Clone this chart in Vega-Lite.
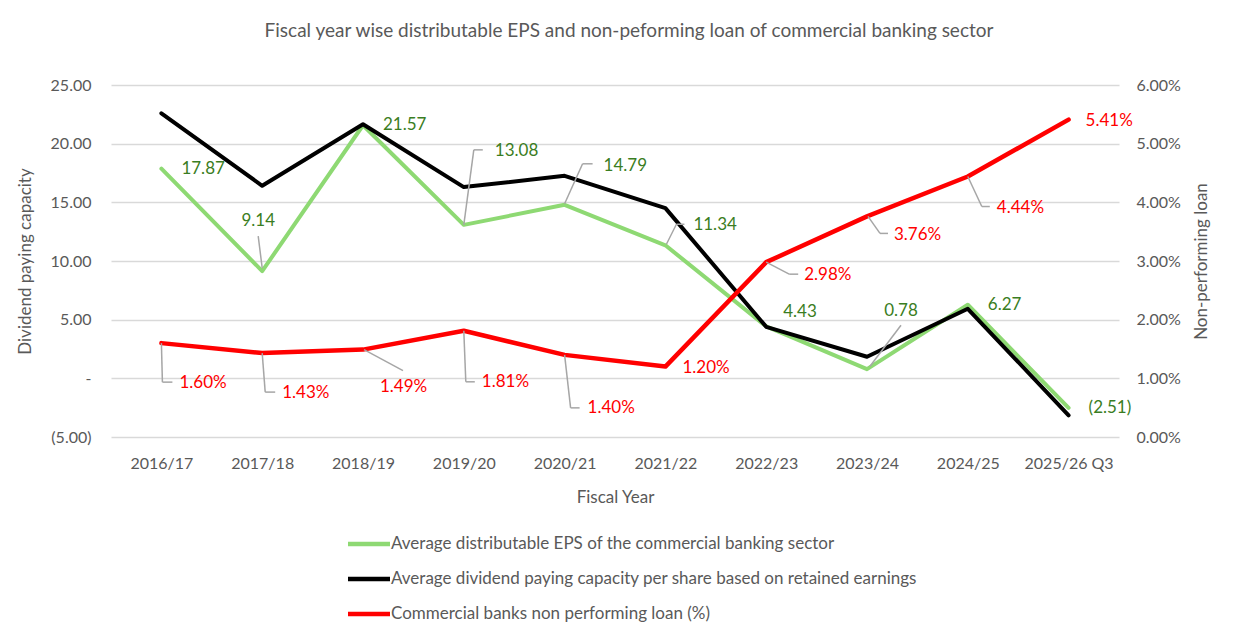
{
  "$schema": "https://vega.github.io/schema/vega-lite/v6.json",
  "width": 1008,
  "height": 352,
  "autosize": "none",
  "padding": {"left": 111, "top": 85, "right": 138, "bottom": 205},
  "background": "white",
  "title": {
    "text": "Fiscal year wise distributable EPS and non-peforming loan of commercial banking sector",
    "anchor": "middle",
    "dx": 14,
    "offset": 36,
    "fontSize": 19,
    "fontWeight": "normal",
    "color": "#595959"
  },
  "data": {
    "values": [
      {"year": "2016/17", "eps": 17.87, "cap": 22.59, "npl": 0.0160},
      {"year": "2017/18", "eps": 9.14, "cap": 16.41, "npl": 0.0143},
      {"year": "2018/19", "eps": 21.57, "cap": 21.66, "npl": 0.0149},
      {"year": "2019/20", "eps": 13.08, "cap": 16.30, "npl": 0.0181},
      {"year": "2020/21", "eps": 14.79, "cap": 17.26, "npl": 0.0140},
      {"year": "2021/22", "eps": 11.34, "cap": 14.51, "npl": 0.0120},
      {"year": "2022/23", "eps": 4.43, "cap": 4.39, "npl": 0.0298},
      {"year": "2023/24", "eps": 0.78, "cap": 1.84, "npl": 0.0376},
      {"year": "2024/25", "eps": 6.27, "cap": 5.93, "npl": 0.0444},
      {"year": "2025/26 Q3", "eps": -2.51, "cap": -3.15, "npl": 0.0541}
    ]
  },
  "transform": [
    {"calculate": "datum.eps < 0 ? '(' + format(-datum.eps, '.2f') + ')' : format(datum.eps, '.2f')", "as": "eps_label"},
    {"calculate": "format(datum.npl, '.2%')", "as": "npl_label"}
  ],
  "encoding": {
    "x": {
      "field": "year",
      "type": "ordinal",
      "sort": null,
      "scale": {"type": "point", "padding": 0.5},
      "title": "Fiscal Year",
      "axis": {"labelAngle": 0}
    }
  },
  "layer": [
    {
      "layer": [
        {
          "mark": {"type": "line", "strokeWidth": 4, "strokeCap": "round", "strokeJoin": "round"},
          "encoding": {
            "y": {
              "field": "eps", "type": "quantitative",
              "scale": {"domain": [-5, 25], "nice": false},
              "title": "Dividend paying capacity",
              "axis": {
                "orient": "left",
                "values": [-5, 0, 5, 10, 15, 20, 25],
                "labelExpr": "datum.value == 0 ? '-\u00a0\u00a0\u00a0' : datum.value < 0 ? '(' + format(-datum.value, '.2f') + ')' : format(datum.value, '.2f') + '\u00a0'"
              }
            },
            "color": {
              "datum": "Average distributable EPS of the commercial banking sector",
              "type": "nominal",
              "scale": {
                "domain": [
                  "Average distributable EPS of the commercial banking sector",
                  "Average dividend paying capacity per share based on retained earnings",
                  "Commercial banks non performing loan (%)"
                ],
                "range": ["#8ED973", "#000000", "#FF0000"]
              },
              "legend": {
                "orient": "none",
                "legendX": 245,
                "legendY": 446,
                "direction": "vertical",
                "title": null,
                "symbolType": "M-2,0L2,0",
                "symbolSize": 441,
                "symbolStrokeWidth": 4.5,
                "labelFontSize": 17,
                "labelColor": "#595959",
                "labelOffset": 9,
                "rowPadding": 13,
                "labelLimit": 700
              }
            }
          }
        },
        {
          "mark": {"type": "line", "strokeWidth": 4, "strokeCap": "round", "strokeJoin": "round"},
          "encoding": {
            "y": {"field": "cap", "type": "quantitative", "title": "Dividend paying capacity"},
            "color": {"datum": "Average dividend paying capacity per share based on retained earnings", "type": "nominal"}
          }
        },
        {
          "transform": [{"filter": "indexof(['2016/17','2018/19','2024/25','2025/26 Q3'], datum.year) >= 0"}],
          "mark": {"type": "text", "align": "left", "baseline": "middle", "dx": 20, "dy": 0, "fontSize": 17, "color": "#3A7D22"},
          "encoding": {
            "y": {"field": "eps", "type": "quantitative", "title": "Dividend paying capacity"},
            "text": {"field": "eps_label"}
          }
        },
        {
          "transform": [{"filter": "datum.year == '2017/18'"}],
          "encoding": {"y": {"field": "eps", "type": "quantitative", "title": "Dividend paying capacity"}},
          "layer": [
            {"mark": {"type": "rule", "color": "#A6A6A6", "strokeWidth": 1.5, "yOffset": -3, "x2Offset": -4, "y2Offset": -35}, "encoding": {"x2": {"field": "year"}, "y2": {"field": "eps"}}},
            {"mark": {"type": "text", "align": "center", "baseline": "middle", "dx": -4, "dy": -50, "fontSize": 17, "color": "#3A7D22"}, "encoding": {"text": {"field": "eps_label"}}}
          ]
        },
        {
          "transform": [{"filter": "datum.year == '2019/20'"}],
          "encoding": {"y": {"field": "eps", "type": "quantitative", "title": "Dividend paying capacity"}},
          "layer": [
            {"mark": {"type": "rule", "color": "#A6A6A6", "strokeWidth": 1.5, "x2Offset": 10, "y2Offset": -75}, "encoding": {"x2": {"field": "year"}, "y2": {"field": "eps"}}},
            {"mark": {"type": "rule", "color": "#A6A6A6", "strokeWidth": 1.5, "xOffset": 10, "yOffset": -75, "x2Offset": 19, "y2Offset": -75}, "encoding": {"x2": {"field": "year"}, "y2": {"field": "eps"}}},
            {"mark": {"type": "text", "align": "left", "baseline": "middle", "dx": 31, "dy": -74, "fontSize": 17, "color": "#3A7D22"}, "encoding": {"text": {"field": "eps_label"}}}
          ]
        },
        {
          "transform": [{"filter": "datum.year == '2020/21'"}],
          "encoding": {"y": {"field": "eps", "type": "quantitative", "title": "Dividend paying capacity"}},
          "layer": [
            {"mark": {"type": "rule", "color": "#A6A6A6", "strokeWidth": 1.5, "yOffset": -1, "x2Offset": 18, "y2Offset": -41}, "encoding": {"x2": {"field": "year"}, "y2": {"field": "eps"}}},
            {"mark": {"type": "rule", "color": "#A6A6A6", "strokeWidth": 1.5, "xOffset": 18, "yOffset": -41, "x2Offset": 28, "y2Offset": -41}, "encoding": {"x2": {"field": "year"}, "y2": {"field": "eps"}}},
            {"mark": {"type": "text", "align": "left", "baseline": "middle", "dx": 39, "dy": -39, "fontSize": 17, "color": "#3A7D22"}, "encoding": {"text": {"field": "eps_label"}}}
          ]
        },
        {
          "transform": [{"filter": "datum.year == '2021/22'"}],
          "encoding": {"y": {"field": "eps", "type": "quantitative", "title": "Dividend paying capacity"}},
          "layer": [
            {"mark": {"type": "rule", "color": "#A6A6A6", "strokeWidth": 1.5, "xOffset": 1, "yOffset": -1, "x2Offset": 11, "y2Offset": -21}, "encoding": {"x2": {"field": "year"}, "y2": {"field": "eps"}}},
            {"mark": {"type": "rule", "color": "#A6A6A6", "strokeWidth": 1.5, "xOffset": 11, "yOffset": -21, "x2Offset": 19, "y2Offset": -21}, "encoding": {"x2": {"field": "year"}, "y2": {"field": "eps"}}},
            {"mark": {"type": "text", "align": "left", "baseline": "middle", "dx": 28, "dy": -20, "fontSize": 17, "color": "#3A7D22"}, "encoding": {"text": {"field": "eps_label"}}}
          ]
        },
        {
          "transform": [{"filter": "datum.year == '2022/23'"}],
          "mark": {"type": "text", "align": "left", "baseline": "middle", "dx": 17, "dy": -14, "fontSize": 17, "color": "#3A7D22"},
          "encoding": {
            "y": {"field": "eps", "type": "quantitative", "title": "Dividend paying capacity"},
            "text": {"field": "eps_label"}
          }
        },
        {
          "transform": [{"filter": "datum.year == '2023/24'"}],
          "encoding": {"y": {"field": "eps", "type": "quantitative", "title": "Dividend paying capacity"}},
          "layer": [
            {"mark": {"type": "rule", "color": "#A6A6A6", "strokeWidth": 1.5, "xOffset": 3, "yOffset": -3, "x2Offset": 34, "y2Offset": -44}, "encoding": {"x2": {"field": "year"}, "y2": {"field": "eps"}}},
            {"mark": {"type": "text", "align": "center", "baseline": "middle", "dx": 34, "dy": -58, "fontSize": 17, "color": "#3A7D22"}, "encoding": {"text": {"field": "eps_label"}}}
          ]
        }
      ]
    },
    {
      "layer": [
        {
          "mark": {"type": "line", "strokeWidth": 4.5, "strokeCap": "round", "strokeJoin": "round"},
          "encoding": {
            "y": {
              "field": "npl", "type": "quantitative",
              "scale": {"domain": [0, 0.06], "nice": false},
              "title": "Non-performing loan",
              "axis": {
                "orient": "right",
                "format": ".2%",
                "values": [0, 0.01, 0.02, 0.03, 0.04, 0.05, 0.06],
                "grid": false,
                "titleAngle": 270,
                "labelPadding": 17,
                "titlePadding": 30
              }
            },
            "color": {"datum": "Commercial banks non performing loan (%)", "type": "nominal"}
          }
        },
        {
          "transform": [{"filter": "datum.year == '2021/22' || datum.year == '2025/26 Q3'"}],
          "mark": {"type": "text", "align": "left", "baseline": "middle", "dx": 17, "dy": 1, "fontSize": 17, "color": "#FF0000"},
          "encoding": {
            "y": {"field": "npl", "type": "quantitative", "title": "Non-performing loan"},
            "text": {"field": "npl_label"}
          }
        },
        {
          "transform": [{"filter": "datum.year == '2016/17'"}],
          "encoding": {"y": {"field": "npl", "type": "quantitative", "title": "Non-performing loan"}},
          "layer": [
            {"mark": {"type": "rule", "color": "#A6A6A6", "strokeWidth": 1.5, "x2Offset": 1, "y2Offset": 39}, "encoding": {"x2": {"field": "year"}, "y2": {"field": "npl"}}},
            {"mark": {"type": "rule", "color": "#A6A6A6", "strokeWidth": 1.5, "xOffset": 1, "yOffset": 39, "x2Offset": 11, "y2Offset": 39}, "encoding": {"x2": {"field": "year"}, "y2": {"field": "npl"}}},
            {"mark": {"type": "text", "align": "left", "baseline": "middle", "dx": 18, "dy": 40, "fontSize": 17, "color": "#FF0000"}, "encoding": {"text": {"field": "npl_label"}}}
          ]
        },
        {
          "transform": [{"filter": "datum.year == '2017/18'"}],
          "encoding": {"y": {"field": "npl", "type": "quantitative", "title": "Non-performing loan"}},
          "layer": [
            {"mark": {"type": "rule", "color": "#A6A6A6", "strokeWidth": 1.5, "x2Offset": 3, "y2Offset": 39}, "encoding": {"x2": {"field": "year"}, "y2": {"field": "npl"}}},
            {"mark": {"type": "rule", "color": "#A6A6A6", "strokeWidth": 1.5, "xOffset": 3, "yOffset": 39, "x2Offset": 13, "y2Offset": 39}, "encoding": {"x2": {"field": "year"}, "y2": {"field": "npl"}}},
            {"mark": {"type": "text", "align": "left", "baseline": "middle", "dx": 20, "dy": 40, "fontSize": 17, "color": "#FF0000"}, "encoding": {"text": {"field": "npl_label"}}}
          ]
        },
        {
          "transform": [{"filter": "datum.year == '2018/19'"}],
          "encoding": {"y": {"field": "npl", "type": "quantitative", "title": "Non-performing loan"}},
          "layer": [
            {"mark": {"type": "rule", "color": "#A6A6A6", "strokeWidth": 1.5, "xOffset": 1, "x2Offset": 40, "y2Offset": 21}, "encoding": {"x2": {"field": "year"}, "y2": {"field": "npl"}}},
            {"mark": {"type": "text", "align": "left", "baseline": "middle", "dx": 17, "dy": 37, "fontSize": 17, "color": "#FF0000"}, "encoding": {"text": {"field": "npl_label"}}}
          ]
        },
        {
          "transform": [{"filter": "datum.year == '2019/20'"}],
          "encoding": {"y": {"field": "npl", "type": "quantitative", "title": "Non-performing loan"}},
          "layer": [
            {"mark": {"type": "rule", "color": "#A6A6A6", "strokeWidth": 1.5, "x2Offset": 2, "y2Offset": 51}, "encoding": {"x2": {"field": "year"}, "y2": {"field": "npl"}}},
            {"mark": {"type": "rule", "color": "#A6A6A6", "strokeWidth": 1.5, "xOffset": 2, "yOffset": 51, "x2Offset": 11, "y2Offset": 51}, "encoding": {"x2": {"field": "year"}, "y2": {"field": "npl"}}},
            {"mark": {"type": "text", "align": "left", "baseline": "middle", "dx": 18, "dy": 51, "fontSize": 17, "color": "#FF0000"}, "encoding": {"text": {"field": "npl_label"}}}
          ]
        },
        {
          "transform": [{"filter": "datum.year == '2020/21'"}],
          "encoding": {"y": {"field": "npl", "type": "quantitative", "title": "Non-performing loan"}},
          "layer": [
            {"mark": {"type": "rule", "color": "#A6A6A6", "strokeWidth": 1.5, "x2Offset": 6, "y2Offset": 53}, "encoding": {"x2": {"field": "year"}, "y2": {"field": "npl"}}},
            {"mark": {"type": "rule", "color": "#A6A6A6", "strokeWidth": 1.5, "xOffset": 6, "yOffset": 53, "x2Offset": 15, "y2Offset": 53}, "encoding": {"x2": {"field": "year"}, "y2": {"field": "npl"}}},
            {"mark": {"type": "text", "align": "left", "baseline": "middle", "dx": 23, "dy": 53, "fontSize": 17, "color": "#FF0000"}, "encoding": {"text": {"field": "npl_label"}}}
          ]
        },
        {
          "transform": [{"filter": "datum.year == '2022/23'"}],
          "encoding": {"y": {"field": "npl", "type": "quantitative", "title": "Non-performing loan"}},
          "layer": [
            {"mark": {"type": "rule", "color": "#A6A6A6", "strokeWidth": 1.5, "x2Offset": 23, "y2Offset": 12}, "encoding": {"x2": {"field": "year"}, "y2": {"field": "npl"}}},
            {"mark": {"type": "rule", "color": "#A6A6A6", "strokeWidth": 1.5, "xOffset": 23, "yOffset": 12, "x2Offset": 32, "y2Offset": 12}, "encoding": {"x2": {"field": "year"}, "y2": {"field": "npl"}}},
            {"mark": {"type": "text", "align": "left", "baseline": "middle", "dx": 38, "dy": 13, "fontSize": 17, "color": "#FF0000"}, "encoding": {"text": {"field": "npl_label"}}}
          ]
        },
        {
          "transform": [{"filter": "datum.year == '2023/24'"}],
          "encoding": {"y": {"field": "npl", "type": "quantitative", "title": "Non-performing loan"}},
          "layer": [
            {"mark": {"type": "rule", "color": "#A6A6A6", "strokeWidth": 1.5, "xOffset": 1, "x2Offset": 13, "y2Offset": 17}, "encoding": {"x2": {"field": "year"}, "y2": {"field": "npl"}}},
            {"mark": {"type": "rule", "color": "#A6A6A6", "strokeWidth": 1.5, "xOffset": 13, "yOffset": 17, "x2Offset": 21, "y2Offset": 17}, "encoding": {"x2": {"field": "year"}, "y2": {"field": "npl"}}},
            {"mark": {"type": "text", "align": "left", "baseline": "middle", "dx": 27, "dy": 19, "fontSize": 17, "color": "#FF0000"}, "encoding": {"text": {"field": "npl_label"}}}
          ]
        },
        {
          "transform": [{"filter": "datum.year == '2024/25'"}],
          "encoding": {"y": {"field": "npl", "type": "quantitative", "title": "Non-performing loan"}},
          "layer": [
            {"mark": {"type": "rule", "color": "#A6A6A6", "strokeWidth": 1.5, "x2Offset": 14, "y2Offset": 30}, "encoding": {"x2": {"field": "year"}, "y2": {"field": "npl"}}},
            {"mark": {"type": "rule", "color": "#A6A6A6", "strokeWidth": 1.5, "xOffset": 14, "yOffset": 30, "x2Offset": 22, "y2Offset": 30}, "encoding": {"x2": {"field": "year"}, "y2": {"field": "npl"}}},
            {"mark": {"type": "text", "align": "left", "baseline": "middle", "dx": 29, "dy": 31, "fontSize": 17, "color": "#FF0000"}, "encoding": {"text": {"field": "npl_label"}}}
          ]
        }
      ]
    }
  ],
  "resolve": {"scale": {"y": "independent"}},
  "config": {
    "font": "Lato",
    "view": {"stroke": null},
    "axis": {
      "domain": false,
      "ticks": false,
      "grid": false,
      "labelColor": "#595959",
      "titleColor": "#595959",
      "labelFontSize": 16,
      "titleFontSize": 17,
      "titleFontWeight": "normal"
    },
    "axisLeft": {"grid": true, "gridColor": "#D9D9D9", "gridWidth": 1.3, "labelPadding": 20, "titlePadding": 16},
    "axisBottom": {"labelPadding": 18, "titlePadding": 18}
  }
}
